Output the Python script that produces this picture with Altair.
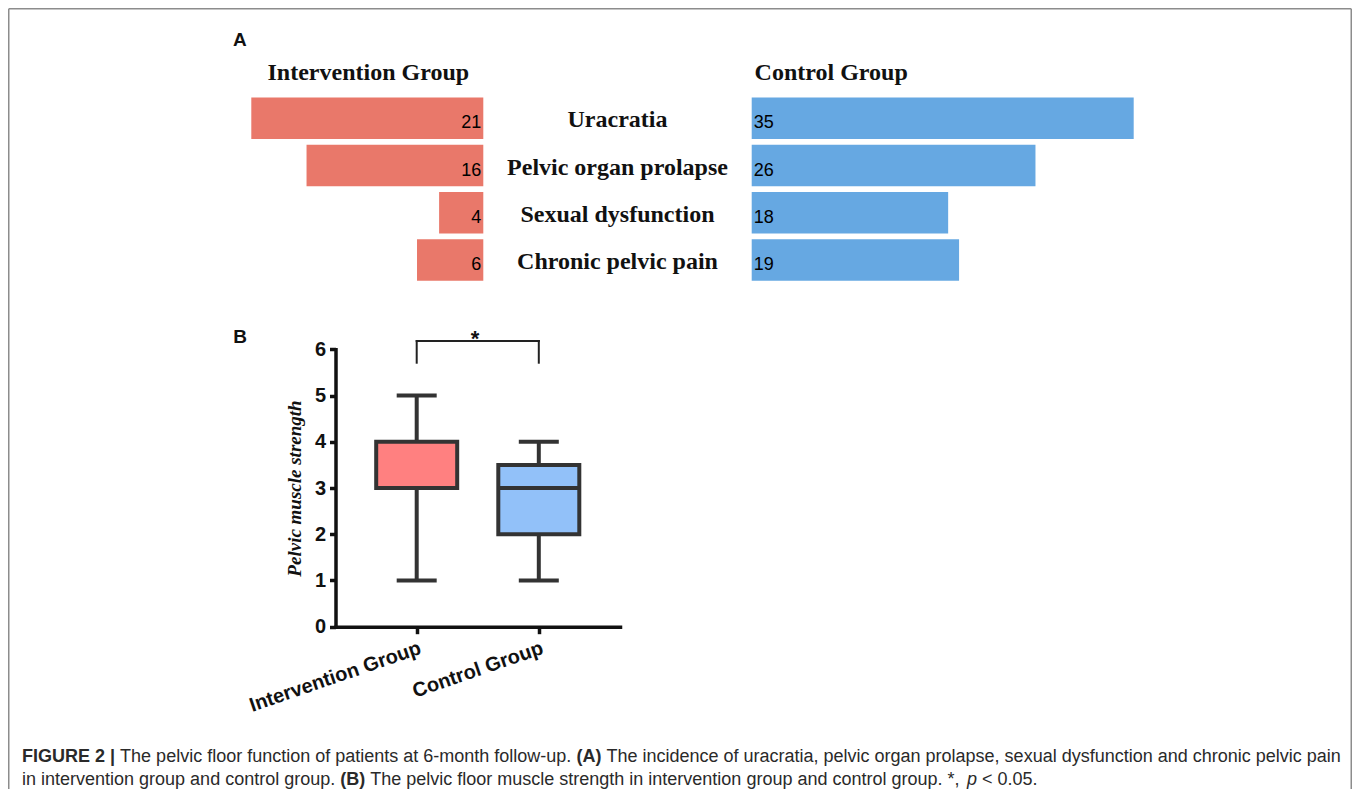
import altair as alt
import pandas as pd

# ---------------- data ----------------
categories = ["Uracratia", "Pelvic organ prolapse", "Sexual dysfunction", "Chronic pelvic pain"]
intervention_counts = [21, 16, 4, 6]
control_counts = [35, 26, 18, 19]

groups = ["Intervention Group", "Control Group"]
whisker_low = [1, 1]
quartile_1 = [3, 2]
medians = [3, 3]
quartile_3 = [4, 3.5]
whisker_high = [5, 4]
y_tick_values = [0, 1, 2, 3, 4, 5, 6]

# ---------------- layout ----------------
W, H = 1344, 781
RED = "#E9786A"
BLUE = "#66A8E2"
BOX_FILL = ["#FF8080", "#92C1F9"]
DARK = "#333333"
SANS = "Liberation Sans"
SERIF = "Liberation Serif"

dfA = pd.DataFrame({"category": categories,
                    "intervention": intervention_counts,
                    "control": control_counts})
dfB = pd.DataFrame({"group": groups, "lo": whisker_low, "q1": quartile_1,
                    "med": medians, "q3": quartile_3, "hi": whisker_high})
dfBr = pd.DataFrame({"g1": [groups[0]], "g2": [groups[1]]})

ycat = alt.Scale(domain=categories, range=[86.7, 275.5], paddingInner=0.12, paddingOuter=0.06)
xred = alt.Scale(domain=[0, 21], range=[475.3, 243.3], nice=False)
xblue = alt.Scale(domain=[0, 35], range=[743.7, 1125.7], nice=False)
xgrp = alt.Scale(type="point", domain=groups, range=[327.5, 612.0], padding=0.665)
ystr = alt.Scale(domain=[0, 6], range=[618.7, 341.3], nice=False, zero=False)

one = pd.DataFrame({"t": [""]})


def label(text, x, y, **kw):
    return alt.Chart(pd.DataFrame({"t": [text]})).mark_text(**kw).encode(
        x=alt.value(x), y=alt.value(y), text="t:N")


# border (open at the bottom)
border = [
    alt.Chart(one).mark_rule(color="#8c8c8c", strokeWidth=1.5).encode(
        x=alt.value(0.75), x2=alt.value(W - 0.75), y=alt.value(0.75)),
    alt.Chart(one).mark_rule(color="#8c8c8c", strokeWidth=1.5).encode(
        x=alt.value(0.75), y=alt.value(0.75), y2=alt.value(H)),
    alt.Chart(one).mark_rule(color="#8c8c8c", strokeWidth=1.5).encode(
        x=alt.value(W - 0.75), y=alt.value(0.75), y2=alt.value(H)),
]

# ---------------- panel A ----------------
panelA = [
    label("A", 225, 31.5, align="left", font=SANS, fontWeight="bold", fontSize=19, color="#111"),
    label("Intervention Group", 360.3, 65, align="center", font=SERIF, fontWeight="bold",
          fontSize=24, color="#111"),
    label("Control Group", 746.6, 65, align="left", font=SERIF, fontWeight="bold",
          fontSize=24, color="#111"),
    alt.Chart(dfA).mark_bar(color=RED).encode(
        x=alt.X("intervention:Q", scale=xred, axis=None),
        y=alt.Y("category:N", scale=ycat, axis=None)),
    alt.Chart(dfA).mark_text(align="right", baseline="alphabetic", dx=-2, dy=10,
                             font=SANS, fontSize=18, color="#000").encode(
        x=alt.XDatum(0, type="quantitative", scale=xred, axis=None),
        y=alt.Y("category:N", scale=ycat, axis=None),
        text="intervention:Q"),
    alt.Chart(dfA).mark_bar(color=BLUE).encode(
        x=alt.X("control:Q", scale=xblue, axis=None),
        y=alt.Y("category:N", scale=ycat, axis=None)),
    alt.Chart(dfA).mark_text(align="left", baseline="alphabetic", dx=2, dy=10,
                             font=SANS, fontSize=18, color="#000").encode(
        x=alt.XDatum(0, type="quantitative", scale=xblue, axis=None),
        y=alt.Y("category:N", scale=ycat, axis=None),
        text="control:Q"),
    alt.Chart(dfA).mark_text(align="center", baseline="alphabetic", dy=9, font=SERIF,
                             fontWeight="bold", fontSize=24, color="#111").encode(
        x=alt.value(609.5),
        y=alt.Y("category:N", scale=ycat, axis=None),
        text="category:N"),
]

# ---------------- panel B ----------------
xg = alt.X("group:N", scale=xgrp, axis=None)
xg_axis = alt.X("group:N", scale=xgrp, sort=groups, axis=alt.Axis(
    orient="bottom", offset=618.7 - H, title=None, grid=False,
    domainWidth=3.5, domainColor="#111", domainCap="square",
    tickWidth=3.5, tickSize=7, tickColor="#111",
    labelAngle=341, labelAlign="right", labelBaseline="top", labelPadding=4,
    labelFont=SANS, labelFontWeight="bold", labelFontSize=20, labelColor="#111",
    labelLimit=400, labelOverlap=False))
y_axis = alt.Y("q1:Q", scale=ystr, axis=alt.Axis(
    orient="left", offset=-327.5, values=y_tick_values, format="d", grid=False,
    domainWidth=3.5, domainColor="#111", domainCap="square",
    tickWidth=3.5, tickSize=6, tickColor="#111",
    labelFont=SANS, labelFontWeight="bold", labelFontSize=20, labelColor="#111",
    labelPadding=4,
    title="Pelvic muscle strength", titleFont=SERIF, titleFontStyle="italic",
    titleFontWeight="bold", titleFontSize=19, titleColor="#111",
    titleAngle=270, titleX=-35.5, titleY=480, titleAlign="center",
    titleBaseline="alphabetic"))

panelB = [
    label("B", 225.3, 329.3, align="left", font=SANS, fontWeight="bold", fontSize=19, color="#111"),
    alt.Chart(dfB).mark_rule(color=DARK, strokeWidth=4).encode(
        x=xg, y=alt.Y("lo:Q", scale=ystr, axis=None), y2="q1:Q"),
    alt.Chart(dfB).mark_rule(color=DARK, strokeWidth=4).encode(
        x=xg, y=alt.Y("q3:Q", scale=ystr, axis=None), y2="hi:Q"),
    alt.Chart(dfB).mark_bar(size=81, stroke=DARK, strokeWidth=4).encode(
        x=xg_axis, y=y_axis, y2="q3:Q",
        color=alt.Color("group:N", scale=alt.Scale(domain=groups, range=BOX_FILL), legend=None)),
    alt.Chart(dfB).mark_tick(size=83, thickness=4, color=DARK, opacity=1).encode(
        x=xg, y=alt.Y("med:Q", scale=ystr, axis=None)),
    alt.Chart(dfB).mark_tick(size=40, thickness=4, color=DARK, opacity=1).encode(
        x=xg, y=alt.Y("lo:Q", scale=ystr, axis=None)),
    alt.Chart(dfB).mark_tick(size=40, thickness=4, color=DARK, opacity=1).encode(
        x=xg, y=alt.Y("hi:Q", scale=ystr, axis=None)),
    alt.Chart(dfBr).mark_rule(color="#222", strokeWidth=2, strokeCap="square").encode(
        x=alt.X("g1:N", scale=xgrp, axis=None), x2="g2:N",
        y=alt.YDatum(6.18, type="quantitative", scale=ystr, axis=None)),
    alt.Chart(dfB).mark_rule(color="#222", strokeWidth=2, strokeCap="square").encode(
        x=xg,
        y=alt.YDatum(5.71, type="quantitative", scale=ystr, axis=None),
        y2=alt.Y2Datum(6.18)),
    label("*", 467, 331, align="center", font=SANS, fontWeight="bold", fontSize=22, color="#111"),
]

# ---------------- caption ----------------
cap = dict(font=SANS, fontSize=18, color="#2a2a2a", align="left", baseline="alphabetic")
caption = [
    label("FIGURE 2 |", 14, 754, fontWeight="bold", **cap),
    label("The pelvic floor function of patients at 6-month follow-up.", 112.1, 754, **cap),
    label("(A)", 568.4, 754, fontWeight="bold", **cap),
    label("The incidence of uracratia, pelvic organ prolapse, sexual dysfunction and chronic pelvic pain",
          598.4, 754, **cap),
    label("in intervention group and control group.", 14, 777, **cap),
    label("(B)", 332.2, 777, fontWeight="bold", **cap),
    label("The pelvic floor muscle strength in intervention group and control group. *,",
          362.2, 777, **cap),
    label("p", 959, 777, fontStyle="italic", **cap),
    label("< 0.05.", 974, 777, **cap),
]

chart = alt.layer(*border, *panelA, *panelB, *caption).resolve_scale(
    x="independent", y="independent", color="independent"
).properties(
    width=W, height=H, padding=0,
    autosize=alt.AutoSizeParams(type="none"),
    background="white",
).configure_view(stroke=None)

chart.save("out.html", embed_options={"renderer": "svg", "actions": False})
